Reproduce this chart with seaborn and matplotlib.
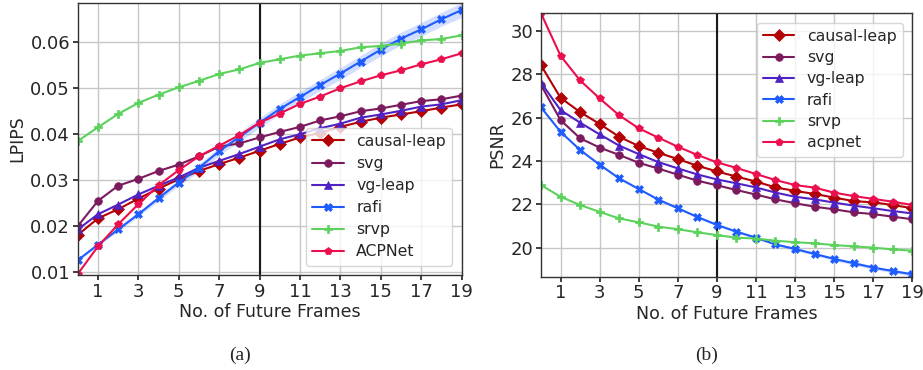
import numpy as np
import pandas as pd
import matplotlib
matplotlib.use("Agg")
import matplotlib.pyplot as plt
import seaborn as sns

# frames
frames = list(range(20))

# LPIPS (panel a)
lpips_causal_leap = [0.0180, 0.0216, 0.0236, 0.0259, 0.0281, 0.0301, 0.0319, 0.0334, 0.0348, 0.0363,
                     0.0378, 0.0392, 0.0402, 0.0415, 0.0426, 0.0435, 0.0442, 0.0449, 0.0457, 0.0464]
lpips_svg = [0.0199, 0.0254, 0.0287, 0.0302, 0.0319, 0.0333, 0.0351, 0.0372, 0.0379, 0.0392,
             0.0404, 0.0415, 0.0429, 0.0438, 0.0449, 0.0455, 0.0463, 0.0471, 0.0475, 0.0483]
lpips_vg_leap = [0.0192, 0.0225, 0.0246, 0.0268, 0.0287, 0.0305, 0.0326, 0.0341, 0.0356, 0.0372,
                 0.0388, 0.0399, 0.0412, 0.0422, 0.0435, 0.0442, 0.0450, 0.0459, 0.0464, 0.0473]
lpips_rafi = [0.0125, 0.0159, 0.0192, 0.0225, 0.0260, 0.0294, 0.0326, 0.0362, 0.0393, 0.0424,
              0.0454, 0.0480, 0.0506, 0.0531, 0.0557, 0.0583, 0.0607, 0.0627, 0.0649, 0.0669]
lpips_rafi_std = [0.0002, 0.0003, 0.0004, 0.0005, 0.0006, 0.0007, 0.0008, 0.0009, 0.0010, 0.0011,
                  0.0011, 0.0012, 0.0012, 0.0013, 0.0013, 0.0014, 0.0014, 0.0015, 0.0015, 0.0016]
lpips_srvp = [0.0384, 0.0414, 0.0443, 0.0467, 0.0485, 0.0501, 0.0515, 0.0530, 0.0540, 0.0554,
              0.0562, 0.0570, 0.0575, 0.0580, 0.0588, 0.0591, 0.0596, 0.0603, 0.0606, 0.0614]
lpips_acpnet = [0.0095, 0.0155, 0.0203, 0.0247, 0.0288, 0.0321, 0.0351, 0.0374, 0.0397, 0.0424,
                0.0444, 0.0465, 0.0481, 0.0499, 0.0514, 0.0527, 0.0538, 0.0551, 0.0562, 0.0575]

# PSNR (panel b)
psnr_causal_leap = [28.42, 26.92, 26.26, 25.71, 25.12, 24.69, 24.38, 24.09, 23.78, 23.52,
                    23.28, 23.05, 22.78, 22.62, 22.48, 22.31, 22.15, 22.09, 21.97, 21.82]
psnr_svg = [27.51, 25.89, 25.05, 24.62, 24.28, 23.92, 23.65, 23.37, 23.09, 22.88,
            22.66, 22.45, 22.23, 22.05, 21.89, 21.77, 21.63, 21.55, 21.43, 21.31]
psnr_vg_leap = [27.62, 26.35, 25.77, 25.23, 24.71, 24.32, 23.95, 23.66, 23.38, 23.15,
                22.97, 22.78, 22.54, 22.35, 22.23, 22.08, 21.94, 21.82, 21.69, 21.58]
psnr_rafi = [26.48, 25.35, 24.51, 23.83, 23.20, 22.71, 22.22, 21.82, 21.42, 21.05,
             20.74, 20.46, 20.15, 19.94, 19.71, 19.48, 19.28, 19.08, 18.92, 18.77]
psnr_rafi_std = [0.02, 0.02, 0.03, 0.03, 0.04, 0.04, 0.04, 0.05, 0.05, 0.05,
                 0.06, 0.06, 0.06, 0.07, 0.07, 0.07, 0.08, 0.08, 0.08, 0.09]
psnr_srvp = [22.89, 22.35, 21.97, 21.65, 21.35, 21.17, 20.97, 20.85, 20.71, 20.58,
             20.46, 20.42, 20.32, 20.25, 20.20, 20.12, 20.06, 20.00, 19.92, 19.86]
psnr_acpnet = [30.82, 28.86, 27.72, 26.89, 26.11, 25.51, 25.08, 24.66, 24.28, 23.94,
               23.68, 23.40, 23.12, 22.89, 22.77, 22.54, 22.38, 22.25, 22.12, 21.97]

# style per method
styles = {
    'causal-leap': dict(color='#b30005', marker='D', markersize=6),
    'svg':         dict(color='#7c1a5e', marker='o', markersize=5.5),
    'vg-leap':     dict(color='#5022c4', marker='^', markersize=5.5),
    'rafi':        dict(color='#1f5cff', marker='X', markersize=5.5),
    'srvp':        dict(color='#5cd25c', marker='P', markersize=5.5),
    'acpnet':      dict(color='#eb0f4e', marker='p', markersize=5.5),
}

sns.set_theme(style="whitegrid", rc={
    'axes.edgecolor': '0.2',
    'grid.color': '0.78',
    'xtick.bottom': True,
    'ytick.left': True,
    'xtick.major.size': 3.5,
    'ytick.major.size': 3.5,
    'xtick.color': '0.15',
    'ytick.color': '0.15',
})
plt.rcParams['font.family'] = ['DejaVu Sans']

fig = plt.figure(figsize=(9.23, 3.7), dpi=100)
ax_a = fig.add_axes([0.0842, 0.2568, 0.416, 0.736])
ax_b = fig.add_axes([0.5861, 0.2522, 0.4023, 0.712])


def draw_panel(ax, series, rafi_std, labels):
    for key, vals in series.items():
        st = styles[key]
        sns.lineplot(x=frames, y=vals, ax=ax, color=st['color'], marker=st['marker'],
                     markersize=st['markersize'], markeredgewidth=0.5, markeredgecolor=st['color'],
                     linewidth=1.5, label=labels[key])
        if key == 'rafi':
            lo = np.array(vals) - np.array(rafi_std)
            hi = np.array(vals) + np.array(rafi_std)
            ax.fill_between(frames, lo, hi, color=st['color'], alpha=0.2, linewidth=0)
    ax.axvline(9, color='0.1', linewidth=1.5, zorder=1.5)
    ax.set_xlim(0, 19)
    ax.set_xticks(range(1, 20, 2))
    ax.set_xlabel("No. of Future Frames", fontsize=12.5, labelpad=2)
    ax.tick_params(labelsize=13, pad=2)
    for s in ax.spines.values():
        s.set_linewidth(1.0)


draw_panel(ax_a,
           {'causal-leap': lpips_causal_leap, 'svg': lpips_svg, 'vg-leap': lpips_vg_leap,
            'rafi': lpips_rafi, 'srvp': lpips_srvp, 'acpnet': lpips_acpnet},
           lpips_rafi_std,
           {'causal-leap': 'causal-leap', 'svg': 'svg', 'vg-leap': 'vg-leap',
            'rafi': 'rafi', 'srvp': 'srvp', 'acpnet': 'ACPNet'})
ax_a.set_ylim(0.0093, 0.0685)
ax_a.set_yticks([0.01, 0.02, 0.03, 0.04, 0.05, 0.06])
ax_a.set_ylabel("LPIPS", fontsize=12.5, labelpad=3)
ax_a.legend(loc='lower right', fontsize=11.3, frameon=True, handlelength=2.0,
            borderaxespad=0.6, labelspacing=0.45)

draw_panel(ax_b,
           {'causal-leap': psnr_causal_leap, 'svg': psnr_svg, 'vg-leap': psnr_vg_leap,
            'rafi': psnr_rafi, 'srvp': psnr_srvp, 'acpnet': psnr_acpnet},
           psnr_rafi_std,
           {'causal-leap': 'causal-leap', 'svg': 'svg', 'vg-leap': 'vg-leap',
            'rafi': 'rafi', 'srvp': 'srvp', 'acpnet': 'acpnet'})
ax_b.set_ylim(18.66, 30.82)
ax_b.set_yticks([20, 22, 24, 26, 28, 30])
ax_b.set_ylabel("PSNR", fontsize=12.5, labelpad=3)
ax_b.legend(loc='upper right', fontsize=11.3, frameon=True, handlelength=2.0,
            borderaxespad=0.6, labelspacing=0.4)

fig.text(0.260, 0.04, "(a)", family=['Liberation Serif', 'DejaVu Serif'], fontsize=14,
         ha='center', va='center')
fig.text(0.766, 0.04, "(b)", family=['Liberation Serif', 'DejaVu Serif'], fontsize=14,
         ha='center', va='center')

fig.savefig("out.png", dpi=100)
